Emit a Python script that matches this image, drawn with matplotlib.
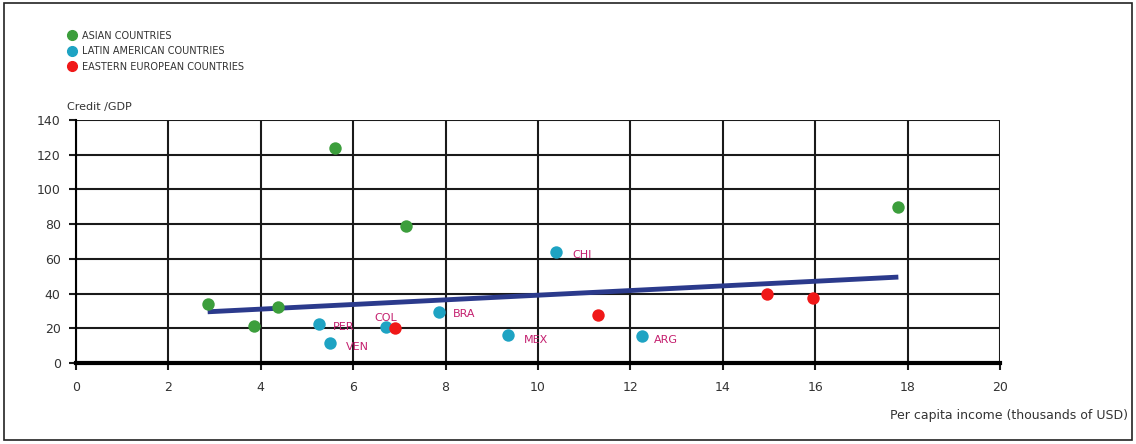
import matplotlib
matplotlib.use("Agg")
import matplotlib.pyplot as plt
from matplotlib.lines import Line2D
from matplotlib.patches import Rectangle

# ---- data ----
asian_x = [5.6, 7.15, 17.8, 2.85, 3.85, 4.37]
asian_y = [124, 79, 90, 34, 21.5, 32]

latin_names = ["PER", "VEN", "COL", "BRA", "MEX", "CHI", "ARG"]
latin_x = [5.25, 5.5, 6.72, 7.85, 9.35, 10.4, 12.25]
latin_y = [22.5, 11.5, 20.5, 29.5, 16, 64, 15.5]

east_x = [6.9, 11.3, 14.95, 15.95]
east_y = [20, 27.5, 40, 37.5]

trend_x = [2.85, 17.8]
trend_y = [29.5, 49.5]

label_x = [5.55, 5.85, 6.45, 8.15, 9.7, 10.75, 12.5]
label_y = [20.5, 9.0, 26.0, 28.5, 13.0, 62.0, 13.0]

xticks = [0, 2, 4, 6, 8, 10, 12, 14, 16, 18, 20]
yticks = [0, 20, 40, 60, 80, 100, 120, 140]

legend_labels = ["ASIAN COUNTRIES", "LATIN AMERICAN COUNTRIES", "EASTERN EUROPEAN COUNTRIES"]

GREEN = "#3c9e3c"
CYAN = "#1ea3c3"
RED = "#f01818"
NAVY = "#2b3a8c"
LABEL = "#c41f6e"
TXT = "#333333"

fig = plt.figure(figsize=(11.36, 4.44), dpi=100)
fig.patch.set_facecolor("white")
fig.patches.append(Rectangle((4 / 1136, 4 / 444), 1128 / 1136, 437 / 444,
                             transform=fig.transFigure, fill=False,
                             edgecolor="#222222", linewidth=1.2))

ax = fig.add_axes([76 / 1136, (444 - 363) / 444, (1000 - 76) / 1136, (363 - 120) / 444])
ax.set_xlim(0, 20)
ax.set_ylim(0, 140)
ax.set_xticks(xticks)
ax.set_yticks(yticks)
ax.grid(True, color="#1a1a1a", linewidth=1.5)
ax.set_axisbelow(True)
for s in ["top", "right"]:
    ax.spines[s].set_visible(False)
ax.spines["left"].set_linewidth(1.5)
ax.spines["bottom"].set_linewidth(3)
ax.tick_params(axis="both", direction="out", length=5, width=1.5, color="#1a1a1a",
               labelsize=9, labelcolor=TXT)
ax.tick_params(axis="x", pad=8)
ax.tick_params(axis="y", pad=6)

ax.plot(trend_x, trend_y, color=NAVY, linewidth=3.5, solid_capstyle="butt", zorder=3)

ms = 80
ax.scatter(asian_x, asian_y, s=ms, color=GREEN, zorder=4, linewidths=0)
ax.scatter(latin_x, latin_y, s=ms, color=CYAN, zorder=4, linewidths=0)
ax.scatter(east_x, east_y, s=ms, color=RED, zorder=5, linewidths=0)

for name, lx, ly in zip(latin_names, label_x, label_y):
    ax.text(lx, ly, name, color=LABEL, fontsize=8, ha="left", va="center", zorder=6)

fig.text(67 / 1136, 1 - 107 / 444, "Credit /GDP", fontsize=8, color=TXT,
         ha="left", va="center")
fig.text(1128 / 1136, 1 - 415 / 444, "Per capita income (thousands of USD)",
         fontsize=9, color=TXT, ha="right", va="center")

handles = [Line2D([], [], linestyle="none", marker="o", markersize=7, color=c)
           for c in (GREEN, CYAN, RED)]
fig.legend(handles, legend_labels, loc="upper left",
           bbox_to_anchor=(62 / 1136, 1 - 26 / 444), frameon=False,
           fontsize=7, labelspacing=0.55, handletextpad=0.6, handlelength=1.0,
           borderpad=0, labelcolor=TXT)

fig.savefig("out.png", dpi=100, facecolor="white")
